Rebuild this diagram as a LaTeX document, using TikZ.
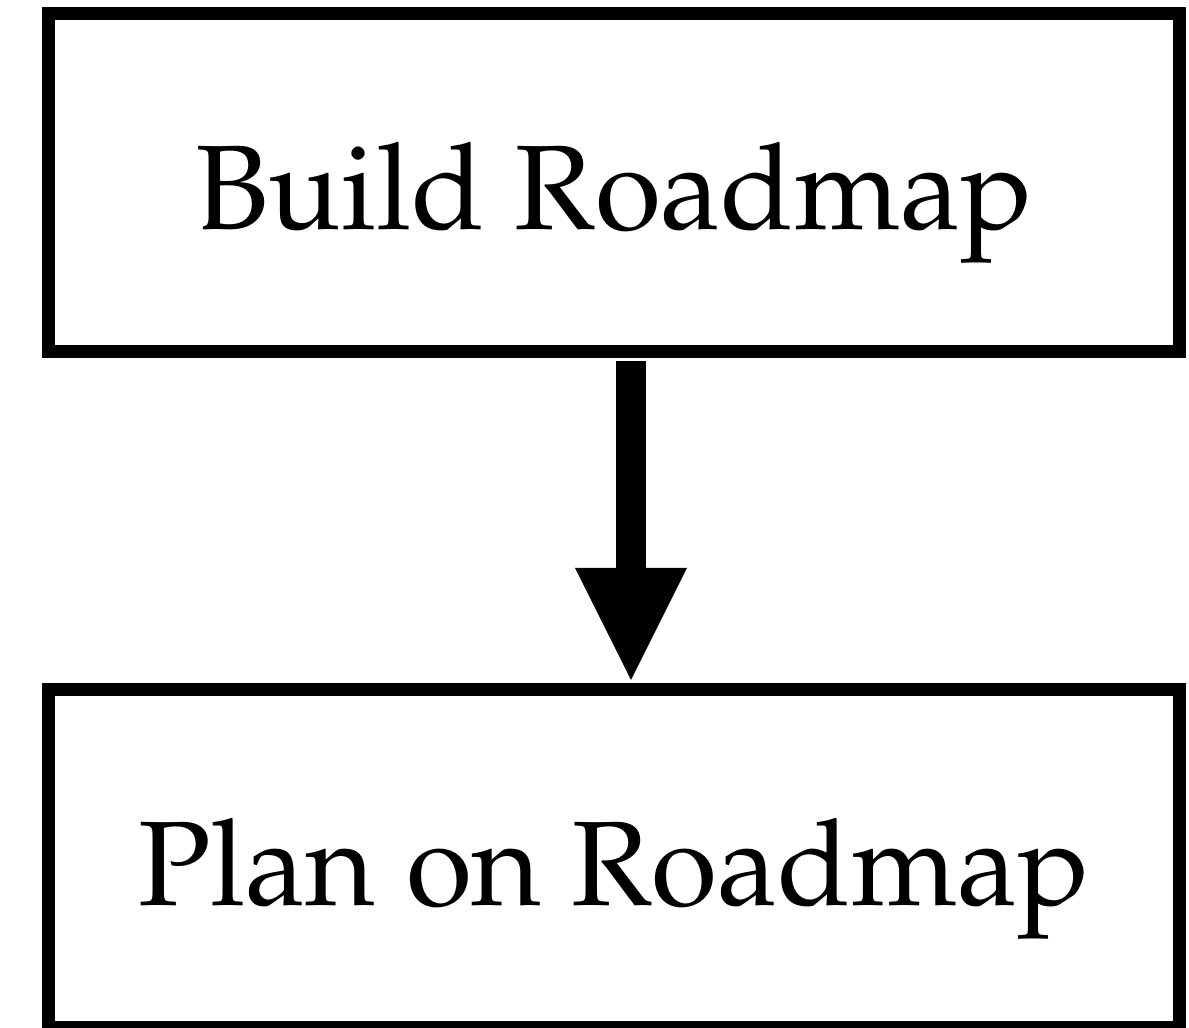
\documentclass[tikz,border=0pt]{standalone}
\usepackage[T1]{fontenc}
\usepackage{mathpazo}
\usetikzlibrary{arrows.meta}

\begin{document}
\begin{tikzpicture}[x=0.025cm,y=-0.025cm,
  stagebox/.style={draw,line width=0.325cm,minimum width=28.275cm,minimum height=8.45cm,inner sep=0pt,text height=2.325cm,text depth=0pt,font=\fontsize{85.5pt}{100pt}\selectfont},
  flow/.style={line width=0.75cm,-{Triangle[length=2.8cm,width=2.8cm,line width=0pt]}}]
\useasboundingbox (0,0) rectangle (1189,1027);
\node[stagebox] (build) at (614,182.5) {Build Roadmap};
\node[stagebox] (plan) at (614,858.5) {Plan on Roadmap};
\draw[flow,shorten <=0.075cm,shorten >=0.075cm] ([xshift=0.425cm]build.south) -- ([xshift=0.425cm]plan.north);
\end{tikzpicture}
\end{document}
